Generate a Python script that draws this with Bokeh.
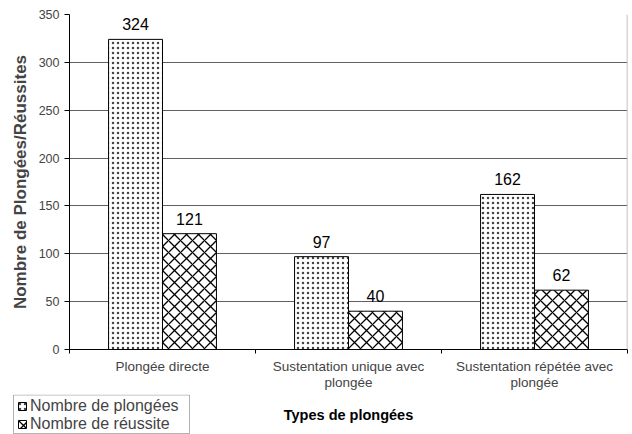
import numpy as np
from bokeh.plotting import figure
from bokeh.layouts import column, row
from bokeh.models import (ColumnDataSource, FixedTicker, Legend, LegendItem, Range1d, Span, Label,
                          BoxAnnotation)
from bokeh.core.properties import value
from bokeh.embed import file_html
from bokeh.resources import INLINE

categories = ["Plongée directe", "Sustentation unique avec\nplongée", "Sustentation répétée avec\nplongée"]
plongees = [324, 97, 162]
reussites = [121, 40, 62]
series_names = ["Nombre de plongées", "Nombre de réussite"]
y_ticks = [0, 50, 100, 150, 200, 250, 300, 350]
x_title = "Types de plongées"
y_title = "Nombre de Plongées/Réussites"

FONT = "Liberation Sans"

idx = np.arange(len(categories)) + 0.5
bar_w = 0.29
src1 = ColumnDataSource(dict(x=idx - bar_w / 2, top=plongees, lab=[str(v) for v in plongees]))
src2 = ColumnDataSource(dict(x=idx + bar_w / 2, top=reussites, lab=[str(v) for v in reussites]))

style1 = dict(fill_color="white", line_color="black", line_width=1, hatch_pattern="dot",
              hatch_scale=5, hatch_weight=1.6, hatch_color="#444444")
style2 = dict(fill_color="white", line_color="black", line_width=1, hatch_pattern="diagonal_cross",
              hatch_scale=12, hatch_weight=1.3, hatch_color="black")

p = figure(width=632, height=394, output_backend="svg", toolbar_location=None,
           x_range=Range1d(0, len(categories)), y_range=Range1d(0, 350),
           min_border_left=69, min_border_right=5, min_border_top=14, min_border_bottom=45)
p.outline_line_color = None
p.background_fill_color = "white"
p.border_fill_color = "white"

p.vbar(x="x", top="top", width=bar_w, source=src1, **style1)
p.vbar(x="x", top="top", width=bar_w, source=src2, **style2)

for s in (src1, src2):
    p.text(x="x", y="top", text="lab", source=s, text_align="center", text_baseline="bottom",
           y_offset=-9, text_font=value(FONT), text_font_size="16px", text_color="black")

p.add_layout(Span(location=len(categories), dimension="height", line_color="#b0b0b0", line_width=1.5))

# grid
p.xgrid.grid_line_color = None
p.ygrid.grid_line_color = "#606060"
p.ygrid.grid_line_width = 1.2

# y axis
p.yaxis.ticker = FixedTicker(ticks=y_ticks)
p.yaxis.axis_line_color = "black"
p.yaxis.major_tick_out = 5
p.yaxis.major_tick_in = 0
p.yaxis.minor_tick_line_color = None
p.yaxis.major_label_text_font = FONT
p.yaxis.major_label_text_font_size = "12.5px"
p.yaxis.major_label_standoff = 5
p.yaxis.axis_label = y_title
p.yaxis.axis_label_text_font = FONT
p.yaxis.axis_label_text_font_style = "bold"
p.yaxis.axis_label_text_font_size = "17px"
p.yaxis.axis_label_standoff = 6

# x axis
p.xaxis.ticker = FixedTicker(ticks=list(idx), minor_ticks=list(range(len(categories) + 1)))
p.xaxis.major_label_overrides = {float(v): c for v, c in zip(idx, categories)}
p.xaxis.major_tick_line_color = None
p.xaxis.major_tick_out = 4
p.xaxis.major_tick_in = 0
p.xaxis.minor_tick_out = 4
p.xaxis.minor_tick_in = 0
p.xaxis.minor_tick_line_color = "black"
p.xaxis.axis_line_color = "black"
p.xaxis.major_label_text_font = FONT
p.xaxis.major_label_text_font_size = "13.5px"
p.xaxis.major_label_text_line_height = 1.1
p.xaxis.major_label_standoff = 5

# lower strip: legend and x-axis title
q = figure(width=632, height=40, output_backend="svg", toolbar_location=None,
           x_range=Range1d(0, 1), y_range=Range1d(0, 1),
           x_axis_location=None, y_axis_location=None,
           min_border_left=0, min_border_right=0, min_border_top=0, min_border_bottom=0)
q.outline_line_color = None
q.xgrid.grid_line_color = None
q.ygrid.grid_line_color = None
q.background_fill_color = "white"
q.border_fill_color = "white"
# legend proxies (hidden) carrying the two series' styles
d1 = q.vbar(x=idx, top=plongees, width=0.1, visible=False, **style1)
d2 = q.vbar(x=idx, top=reussites, width=0.1, visible=False, **style2)

q.add_layout(BoxAnnotation(left=13, right=189, bottom=1, top=39.5, left_units="screen",
                           right_units="screen", bottom_units="screen", top_units="screen",
                           fill_color="white", fill_alpha=1, line_color="black", line_width=1,
                           level="underlay"))

legend = Legend(items=[LegendItem(label=series_names[0], renderers=[d1]),
                       LegendItem(label=series_names[1], renderers=[d2])],
                location=(17, 1), orientation="vertical",
                label_text_font=FONT, label_text_font_size="16px",
                glyph_width=10, glyph_height=10, label_standoff=3,
                padding=1, spacing=0, label_height=17, margin=0,
                border_line_color=None, background_fill_alpha=0,
                inactive_fill_alpha=0)
q.add_layout(legend, "center")
q.add_layout(Label(x=348, y=20, x_units="screen", y_units="screen", text=x_title,
                   text_align="center", text_baseline="middle", text_font=FONT,
                   text_font_style="bold", text_font_size="14.5px", text_color="black"))

layout = column(p, row(q, spacing=0), spacing=0)
open("out.html", "w").write(file_html(layout, INLINE))
